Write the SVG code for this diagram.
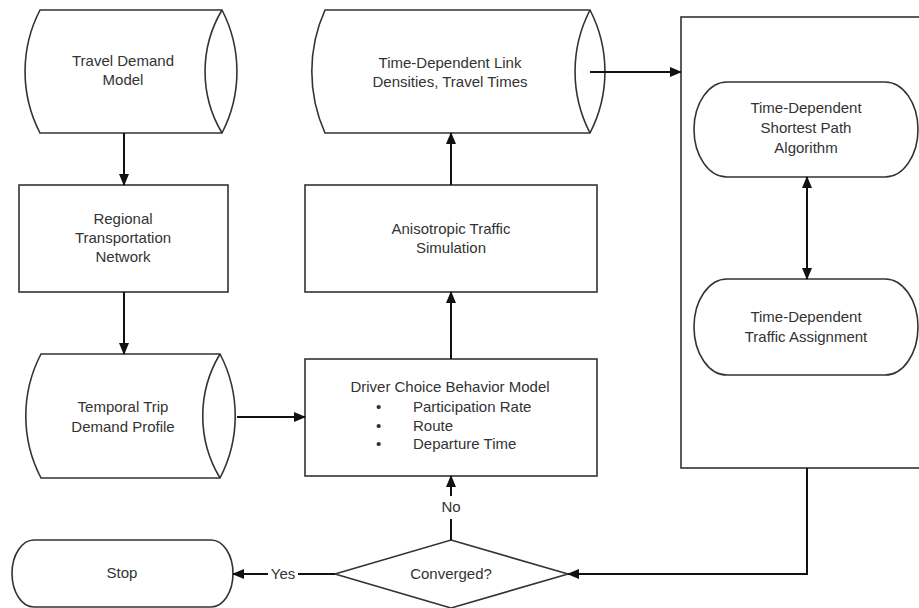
<svg xmlns="http://www.w3.org/2000/svg" width="919" height="608" viewBox="0 0 919 608">
<style>
.s{fill:#fff;stroke:#333;stroke-width:1.6}
.l{fill:none;stroke:#333;stroke-width:1.6}
.c{fill:none;stroke:#111;stroke-width:2}
text{font-family:"Liberation Sans",Arial,sans-serif;font-size:15px;fill:#333}
.m{text-anchor:middle}
</style>
<defs>
<marker id="ah" markerUnits="userSpaceOnUse" markerWidth="12" markerHeight="10" refX="11" refY="5" orient="auto-start-reverse">
<path d="M0,0 L12,5 L0,10 Z" fill="#111"/>
</marker>
</defs>
<rect width="919" height="608" fill="#fff"/>
<g id="panel">
<rect class="s" x="681" y="17" width="260" height="451"/>
</g>
<g id="travel-demand">
<path class="s" d="M40,10 H222 A134,134 0 0 1 222,133 H40 A134,134 0 0 1 40,10 Z"/>
<path class="l" d="M222,10 A120,120 0 0 0 222,133"/>
<text class="m" x="123" y="66">Travel Demand</text>
<text class="m" x="123" y="85">Model</text>
</g>
<g id="regional">
<rect class="s" x="19" y="185" width="209" height="107"/>
<text class="m" x="123" y="224">Regional</text>
<text class="m" x="123" y="243">Transportation</text>
<text class="m" x="123" y="262">Network</text>
</g>
<g id="temporal">
<path class="s" d="M41,354 H220 A134,134 0 0 1 220,478 H41 A134,134 0 0 1 41,354 Z"/>
<path class="l" d="M220,354 A120,120 0 0 0 220,478"/>
<text class="m" x="123" y="412">Temporal Trip</text>
<text class="m" x="123" y="432">Demand Profile</text>
</g>
<g id="link-densities">
<path class="s" d="M325,10 H590 A134,134 0 0 1 590,133 H325 A150,150 0 0 1 325,10 Z"/>
<path class="l" d="M590,10 A134,134 0 0 0 590,133"/>
<text class="m" x="450" y="68">Time-Dependent Link</text>
<text class="m" x="450" y="87">Densities, Travel Times</text>
</g>
<g id="anisotropic">
<rect class="s" x="305" y="185" width="292" height="107"/>
<text class="m" x="451" y="234">Anisotropic Traffic</text>
<text class="m" x="451" y="253">Simulation</text>
</g>
<g id="driver-choice">
<rect class="s" x="305" y="359" width="292" height="117"/>
<text class="m" x="450" y="392">Driver Choice Behavior Model</text>
<text x="376" y="412">•</text><text x="413" y="412">Participation Rate</text>
<text x="376" y="431">•</text><text x="413" y="431">Route</text>
<text x="376" y="449">•</text><text x="413" y="449">Departure Time</text>
</g>
<g id="shortest-path">
<rect class="s" x="694" y="82" width="224" height="95" rx="33" ry="47.5"/>
<text class="m" x="806" y="113">Time-Dependent</text>
<text class="m" x="806" y="133">Shortest Path</text>
<text class="m" x="806" y="153">Algorithm</text>
</g>
<g id="traffic-assignment">
<rect class="s" x="694" y="279" width="224" height="96" rx="33" ry="48"/>
<text class="m" x="806" y="322">Time-Dependent</text>
<text class="m" x="806" y="342">Traffic Assignment</text>
</g>
<g id="converged">
<path class="s" d="M451,540 L568,574 L451,608 L335,574 Z"/>
<text class="m" x="451" y="579">Converged?</text>
</g>
<g id="stop">
<rect class="s" x="12" y="540" width="221" height="67" rx="22" ry="33.5"/>
<text class="m" x="122" y="578">Stop</text>
</g>
<g id="connectors">
<path class="c" d="M124,133 V185" marker-end="url(#ah)"/>
<path class="c" d="M124,292 V354" marker-end="url(#ah)"/>
<path class="c" d="M237,417 H305" marker-end="url(#ah)"/>
<path class="c" d="M451,359 V292" marker-end="url(#ah)"/>
<path class="c" d="M451,185 V133" marker-end="url(#ah)"/>
<path class="c" d="M590,72 H681" marker-end="url(#ah)"/>
<path class="c" d="M807,177 V279" marker-start="url(#ah)" marker-end="url(#ah)"/>
<path class="c" d="M807,468 V574 H568" marker-end="url(#ah)"/>
<path class="c" d="M451,540 V519"/>
<path class="c" d="M451,496 V476" marker-end="url(#ah)"/>
<text class="m" x="451" y="512">No</text>
<path class="c" d="M335,574 H298"/>
<path class="c" d="M268,574 H233" marker-end="url(#ah)"/>
<text class="m" x="283" y="579">Yes</text>
</g>
</svg>
